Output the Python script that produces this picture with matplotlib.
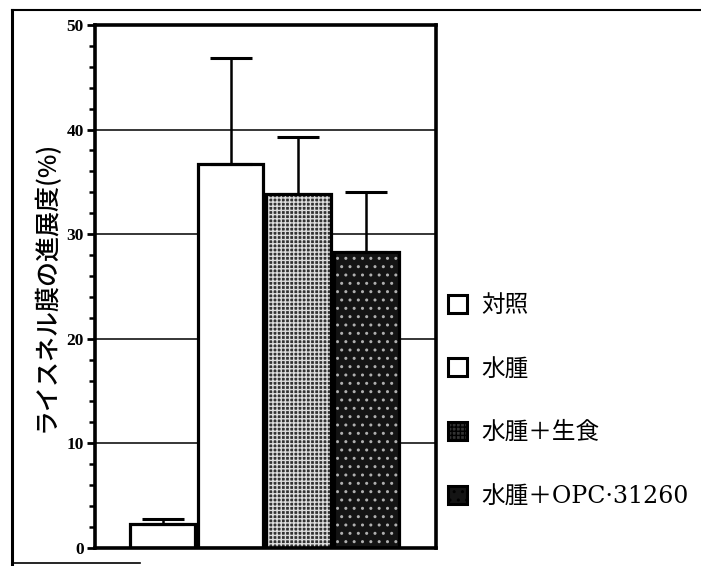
import matplotlib
matplotlib.use('Agg')
import matplotlib.pyplot as plt
from matplotlib.patches import Patch
from matplotlib.lines import Line2D

# data
groups = ['対照', '水腫', '水腫＋生食', '水腫＋OPC·31260']
means = [2.3, 36.7, 33.8, 28.3]
sd_up = [0.5, 10.1, 5.5, 5.7]
ylabel = 'ライスネル膜の進展度(%)'

faces = ['white', 'white', '#333333', '#141414']
hatch_cols = ['white', 'white', '#dddddd', '#b0b0b0']
hatches = [None, None, '++++', '..']

fig = plt.figure(figsize=(7.01, 5.66), dpi=100)
ax = fig.add_axes([0.1355, 0.032, 0.4865, 0.924])

x = list(range(len(groups)))
# fill with texture, then black outline on top
for i in x:
    ax.bar(i, means[i], width=0.96, color=faces[i], edgecolor=hatch_cols[i],
           hatch=hatches[i], linewidth=0, zorder=2)
ax.bar(x, means, width=0.96, fill=False, edgecolor='black', linewidth=2.3, zorder=3)
ax.errorbar(x, means, yerr=[[0] * len(x), sd_up], fmt='none', ecolor='black',
            elinewidth=1.8, capsize=15, capthick=2.2, zorder=4)

ax.set_xlim(-1.0, 4.03)
ax.set_ylim(0, 50)
ax.set_yticks([0, 10, 20, 30, 40, 50])
ax.set_yticks(range(0, 51, 2), minor=True)
ax.set_xticks([])
for v in [10, 20, 30, 40]:
    ax.axhline(v, color='black', linewidth=1.1, zorder=1)
for s in ax.spines.values():
    s.set_linewidth(2.6)
ax.tick_params(axis='y', which='major', direction='out', length=6, width=2, pad=2)
ax.tick_params(axis='y', which='minor', direction='out', length=4, width=1.8)
for lab in ax.get_yticklabels():
    lab.set_family('Liberation Serif')
    lab.set_fontsize(12.5)
    lab.set_fontweight('bold')

ax.set_ylabel(ylabel, family=['Noto Sans CJK JP', 'DejaVu Sans'], fontsize=18,
              fontweight='medium', labelpad=5)

handles = []
for i in x:
    handles.append(Patch(facecolor=faces[i], edgecolor='black', hatch=hatches[i], linewidth=2.2))
leg = ax.legend(handles, groups, loc='center left', bbox_to_anchor=(1.035, 0.281),
                frameon=False, handlelength=0.8, handleheight=0.8, handletextpad=0.6,
                labelspacing=1.72, borderpad=0, borderaxespad=0,
                prop={'family': ['DejaVu Serif', 'Noto Sans CJK JP'], 'size': 17})

# scanned frame around the figure
fig.add_artist(Line2D([0.017, 1.0], [0.9823, 0.9823], color='black', linewidth=1.5))
fig.add_artist(Line2D([0.017, 0.017], [0.003, 0.9823], color='black', linewidth=2.2))
fig.add_artist(Line2D([0.017, 0.2], [0.005, 0.005], color='black', linewidth=1.2))

fig.savefig('out.png', dpi=100)
